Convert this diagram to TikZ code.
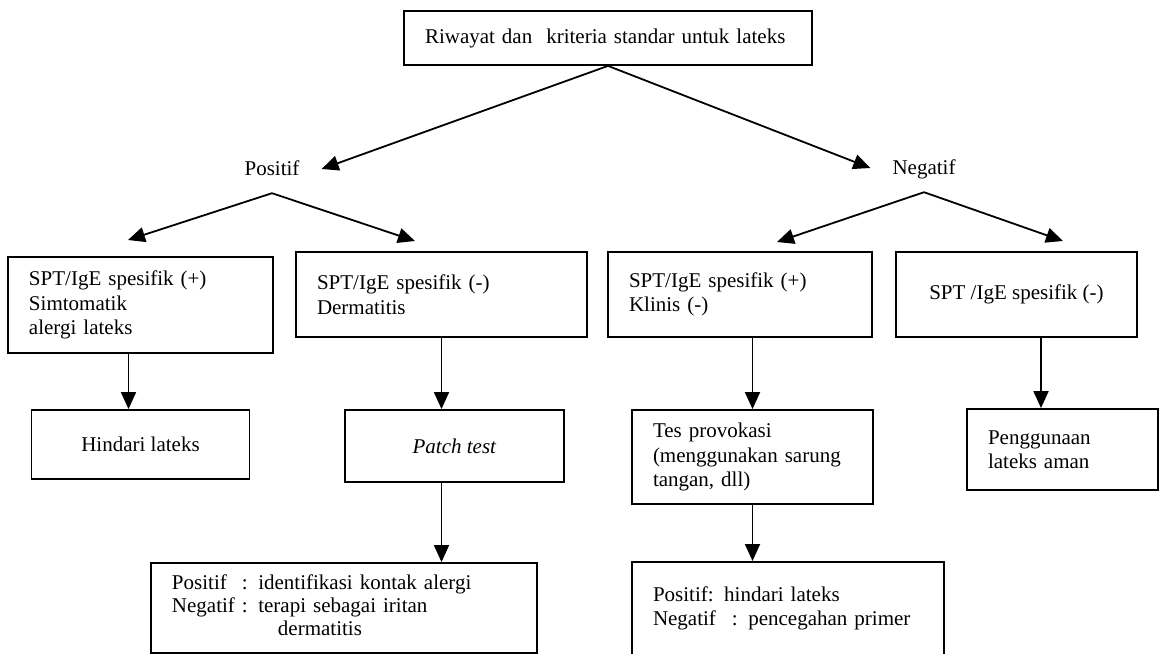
\documentclass[tikz,border=0pt]{standalone}
\usepackage{fontspec}
\setmainfont{Liberation Serif}
\usetikzlibrary{arrows.meta,calc}
\begin{document}
\begin{tikzpicture}[x=1bp,y=-1bp,
  every node/.style={font=\fontsize{21bp}{24.5bp}\selectfont},
  box/.style={draw, line width=1.8bp, inner xsep=21bp, inner ysep=0pt, align=left},
  cbox/.style={draw, line width=1.8bp, inner sep=0pt, align=center},
  lbl/.style={inner xsep=22bp, inner ysep=17bp, text height=14bp, text depth=0pt},
  arr/.style={line width=1.8bp, -{Triangle[length=17bp,width=15bp]}}]
\useasboundingbox (0,0) rectangle (1159,654);
\clip (0,0) rectangle (1159,654);
\fill[white] (0,0) rectangle (1159,654);

% top
\node[box, text width=366bp, minimum height=54bp] (top) at (608,38) {Riwayat dan\ \ kriteria standar untuk lateks};

% labels
\node[lbl] (pos) at (272,169) {Positif};
\node[lbl] (neg) at (924,168) {Negatif};

% row 1
\node[box, text width=223bp, minimum height=96bp] (A) at (140.5,305) {SPT/IgE spesifik (+)\\Simtomatik\\alergi lateks};
\node[box, text width=249bp, minimum height=85bp] (B) at (441.5,294.5) {SPT/IgE spesifik (-)\\Dermatitis};
\node[box, text width=222bp, minimum height=85bp] (C) at (740,294.5) {SPT/IgE spesifik (+)\\Klinis (-)};
\node[cbox, minimum width=241bp, minimum height=85bp] (D) at (1016.5,294.5) {SPT /IgE spesifik (-)};

% row 2
\node[cbox, minimum width=218bp, minimum height=69bp] (hind) at (140.5,444.5) {Hindari lateks};
\node[cbox, minimum width=219bp, minimum height=72bp] (patch) at (454.5,446) {\textit{Patch test}};
\node[box, text width=199bp, minimum height=94bp] (tes) at (752.5,457) {Tes provokasi\\(menggunakan sarung\\tangan, dll)};
\node[box, text width=149bp, minimum height=81bp] (peng) at (1062.5,449.5) {Penggunaan\\lateks aman};

% row 3
\node[box, text width=344bp, minimum height=90bp] (pres) at (344,608) {\renewcommand\arraystretch{0.93}\begin{tabular}{@{}l@{ }l@{}}Positif&: identifikasi kontak alergi\\Negatif&: terapi sebagai iritan\\&\hspace{36bp}dermatitis\end{tabular}};
\node[box, anchor=north, text width=270bp, inner ysep=24.7bp, text depth=42bp] (tres) at (788,561) {Positif: hindari lateks\\Negatif\hspace{16bp}: pencegahan primer};

% connectors
\draw[arr] (top.south) -- (pos.east);
\draw[arr] (top.south) -- (neg.west);

\coordinate (tA) at (128,240);
\coordinate (tB) at (415,241);
\coordinate (tC) at (777,242);
\coordinate (tD) at (1063,241);
\draw[arr] (pos.south) -- (tA);
\draw[arr] (pos.south) -- (tB);
\draw[arr] (neg.south) -- (tC);
\draw[arr] (neg.south) -- (tD);

\coordinate (a1) at ($(A.south)+(-12,0)$);
\draw[arr] (a1) -- (a1 |- hind.north);
\draw[arr] (B.south) -- (B.south |- patch.north);
\draw[arr] (tes.north |- C.south) -- (tes.north);
\coordinate (d1) at ($(D.south)+(24.5,0)$);
\draw[arr] (d1) -- (d1 |- peng.north);

\draw[arr] (B.south |- patch.south) -- (B.south |- pres.north);
\draw[arr] (tes.south) -- (tes.south |- tres.north);
\end{tikzpicture}
\end{document}
